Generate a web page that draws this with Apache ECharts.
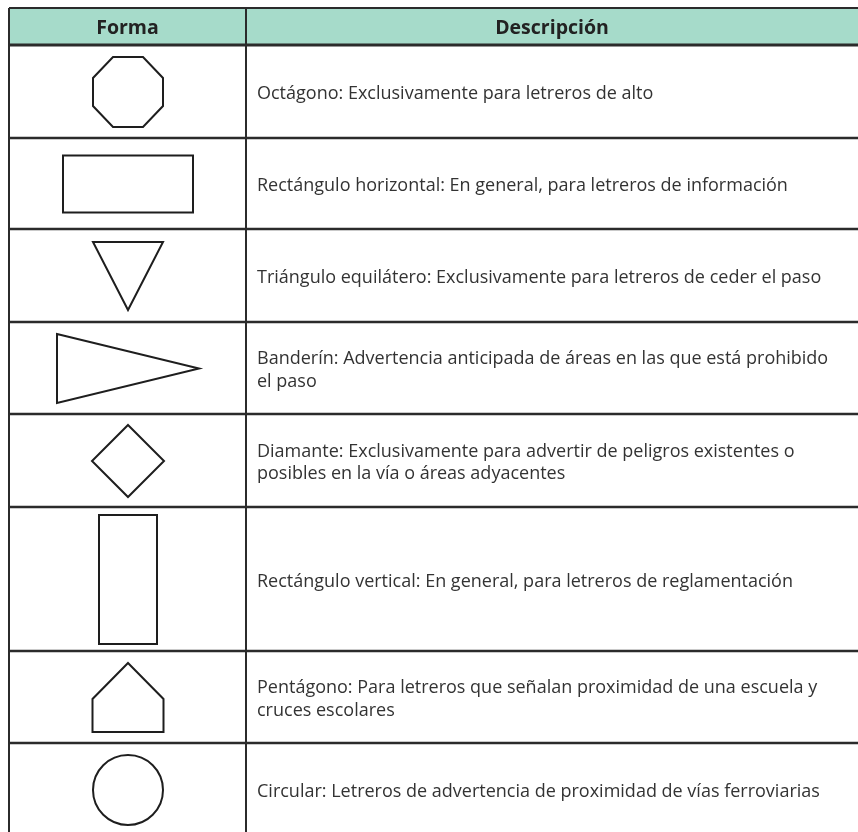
<!DOCTYPE html>
<html><head><meta charset="utf-8">
<script src="https://cdn.jsdelivr.net/npm/echarts@6/dist/echarts.min.js"></script>
<style>html,body{margin:0;padding:0;background:#fff}#c{width:858px;height:832px}</style>
</head><body><div id="c"></div>
<script>
// ---- data ----
const headers = ['Forma', 'Descripción'];
const shapeKinds = ['octagon', 'hrect', 'triangle', 'pennant', 'diamond', 'vrect', 'pentagon', 'circle'];
const descriptions = [
  ['Octágono: Exclusivamente para letreros de alto'],
  ['Rectángulo horizontal: En general, para letreros de información'],
  ['Triángulo equilátero: Exclusivamente para letreros de ceder el paso'],
  ['Banderín: Advertencia anticipada de áreas en las que está prohibido', 'el paso'],
  ['Diamante: Exclusivamente para advertir de peligros existentes o', 'posibles en la vía o áreas adyacentes'],
  ['Rectángulo vertical: En general, para letreros de reglamentación'],
  ['Pentágono: Para letreros que señalan proximidad de una escuela y', 'cruces escolares'],
  ['Circular: Letreros de advertencia de proximidad de vías ferroviarias']
];

// ---- layout (table geometry, in axis units = px) ----
const rowEdges = [8, 45, 138, 229, 322, 414, 507, 651, 743, 836];
const colEdges = [9, 246, 858];
const shapeTemplates = {
  octagon: [[-15,-35],[15,-35],[35,-14],[35,14],[15,35],[-15,35],[-35,14],[-35,-14]],
  hrect: [[-65,-28.5],[65,-28.5],[65,28.5],[-65,28.5]],
  triangle: [[-35,-34],[35,-34],[0,34]],
  pennant: [[-71,-34.5],[71,0],[-71,34.5]],
  diamond: [[0,-36],[36,0],[0,36],[-36,0]],
  vrect: [[-29,-64.5],[29,-64.5],[29,64.5],[-29,64.5]],
  pentagon: [[0,-34.5],[35.5,1.5],[35.5,34.5],[-35.5,34.5],[-35.5,1.5]]
};
const LINE = '#2b2b2b';
const HEAD_FILL = '#a6dbca';
const FONT = '"Open Sans", "Noto Sans", sans-serif';

const chart = echarts.init(document.getElementById('c'), null, {renderer: 'canvas'});

function line(api, x1, y1, x2, y2, w) {
  const a = api.coord([x1, y1]), b = api.coord([x2, y2]);
  return {type: 'line', shape: {x1: a[0], y1: a[1], x2: b[0], y2: b[1]},
          style: {stroke: LINE, lineWidth: w}, silent: true};
}

function renderHeader(params, api) {
  const top = rowEdges[0], bot = rowEdges[1];
  const tl = api.coord([colEdges[0], top]), br = api.coord([colEdges[2], bot]);
  const children = [
    {type: 'rect', shape: {x: tl[0], y: tl[1], width: br[0] - tl[0], height: br[1] - tl[1]},
     style: {fill: HEAD_FILL}},
    line(api, colEdges[0], top, colEdges[2], top, 2),
    line(api, colEdges[0], bot, colEdges[2], bot, 3),
    line(api, colEdges[0], top, colEdges[0], bot, 2),
    line(api, colEdges[1], top, colEdges[1], bot, 2)
  ];
  headers.forEach(function (h, j) {
    const c = api.coord([(colEdges[j] + colEdges[j + 1]) / 2, (top + bot) / 2 + 1.5]);
    children.push({type: 'text', style: {text: h, x: c[0], y: c[1], fill: '#222',
      font: 'bold 19.5px ' + FONT, textAlign: 'center', textVerticalAlign: 'middle'}});
  });
  return {type: 'group', children: children};
}

function renderRow(params, api) {
  const i = api.value(0);
  const top = rowEdges[i + 1], bot = rowEdges[i + 2];
  const cx = (colEdges[0] + colEdges[1]) / 2 + 0.5;
  const cy = (top + bot) / 2 + 0.5;
  const children = [
    line(api, colEdges[0], bot, colEdges[2], bot, 2.5),
    line(api, colEdges[0], top, colEdges[0], bot, 2),
    line(api, colEdges[1], top, colEdges[1], bot, 2)
  ];
  const kind = shapeKinds[i];
  const shapeStyle = {fill: 'none', stroke: '#1e1e1e', lineWidth: 2};
  if (kind === 'circle') {
    const c = api.coord([cx, cy]);
    const e = api.coord([cx + 35, cy]);
    children.push({type: 'circle', shape: {cx: c[0], cy: c[1], r: e[0] - c[0]}, style: shapeStyle});
  } else {
    const pts = shapeTemplates[kind].map(function (p) { return api.coord([cx + p[0], cy + p[1]]); });
    children.push({type: 'polygon', shape: {points: pts}, style: shapeStyle});
  }
  const t = api.coord([colEdges[1] + 11, (top + bot) / 2 + 2.5]);
  children.push({type: 'text', style: {text: descriptions[i].join('\n'), x: t[0], y: t[1],
    fill: '#333', font: '18px ' + FONT, lineHeight: 22.5,
    textAlign: 'left', textVerticalAlign: 'middle'}});
  return {type: 'group', children: children};
}

chart.setOption({
  animation: false,
  grid: {left: 0, right: 0, top: 0, bottom: 0},
  xAxis: {type: 'value', min: 0, max: 858, show: false},
  yAxis: {type: 'value', min: 0, max: 832, inverse: true, show: false},
  series: [
    {type: 'custom', renderItem: renderHeader, data: [[0]], clip: false},
    {type: 'custom', renderItem: renderRow, data: descriptions.map(function (d, i) { return [i]; }), clip: false}
  ]
});
</script>
</body></html>
